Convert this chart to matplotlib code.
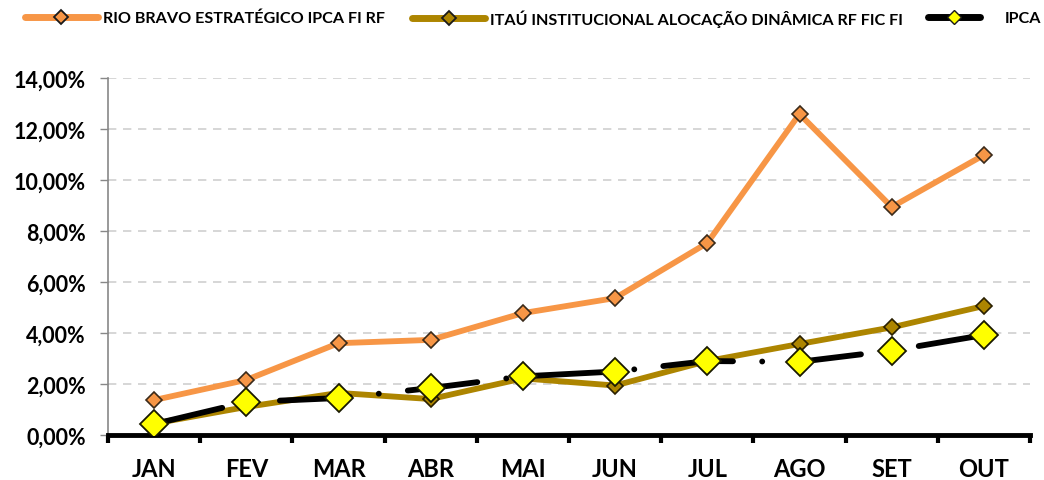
import matplotlib
matplotlib.use("Agg")
import matplotlib.pyplot as plt
from matplotlib.lines import Line2D
from matplotlib.ticker import FixedLocator, NullFormatter, FuncFormatter

months = ["JAN", "FEV", "MAR", "ABR", "MAI", "JUN", "JUL", "AGO", "SET", "OUT"]
rio_bravo = [1.37, 2.16, 3.60, 3.73, 4.78, 5.37, 7.53, 12.59, 8.94, 10.98]
itau = [0.45, 1.10, 1.65, 1.41, 2.22, 1.94, 2.90, 3.57, 4.22, 5.06]
ipca = [0.43, 1.29, 1.45, 1.84, 2.30, 2.49, 2.90, 2.87, 3.31, 3.92]
series_names = ["RIO BRAVO ESTRATÉGICO IPCA FI RF",
                "ITAÚ INSTITUCIONAL ALOCAÇÃO DINÂMICA RF FIC FI",
                "IPCA"]

plt.rcParams['font.family'] = ['Lato', 'DejaVu Sans']

fig = plt.figure(figsize=(10.44, 4.81), dpi=100)
ax = fig.add_axes([108/1044, 1-436/481, (1030-108)/1044, (436-79)/481])

x = list(range(len(months)))
orange = '#F79646'
olive = '#AD8500'

ax.plot(x, rio_bravo, color=orange, lw=4.2, marker='D', ms=8,
        mfc=orange, mec='#3a2a1a', mew=1.2, solid_capstyle='round', zorder=3)
ax.plot(x, itau, color=olive, lw=4.2, marker='D', ms=8,
        mfc=olive, mec='#2a2000', mew=1.2, solid_capstyle='round', zorder=4)
ax.plot(x, ipca, color='black', lw=4.2, dashes=(12, 5, 0.01, 5),
        dash_capstyle='round', marker='D', ms=14, mfc='#FFFF00',
        mec='#1a1a00', mew=1.3, zorder=5)

ax.set_xlim(-0.5, len(months) - 0.5)
ax.set_ylim(0, 14)
ax.yaxis.set_major_locator(FixedLocator([0, 2, 4, 6, 8, 10, 12, 14]))
ax.yaxis.set_major_formatter(FuncFormatter(lambda v, p: f"{v:.2f}%".replace('.', ',')))
ax.grid(axis='y', color='#d0d0d0', ls=(0, (5, 4)), lw=1.2, zorder=0)

ax.xaxis.set_major_locator(FixedLocator([i - 0.5 for i in range(len(months) + 1)]))
ax.xaxis.set_major_formatter(NullFormatter())
ax.xaxis.set_minor_locator(FixedLocator(x))
ax.set_xticklabels(months, minor=True)
ax.tick_params(axis='x', which='major', length=6, width=3, color='black', direction='out')
ax.tick_params(axis='x', which='minor', length=0, pad=16, labelsize=17)
ax.tick_params(axis='y', length=6, width=1, color='#888888', labelsize=15.5, pad=10)
for lab in ax.get_xticklabels(minor=True) + ax.get_yticklabels():
    lab.set_fontweight('bold')

for s in ['top', 'right']:
    ax.spines[s].set_visible(False)
ax.spines['left'].set_color('#888888')
ax.spines['left'].set_linewidth(1.2)
ax.spines['bottom'].set_color('black')
ax.spines['bottom'].set_linewidth(3.5)

# legend: three entries placed as in the reference
leg_fs = 11.6
px_per_fs = leg_fs * 100 / 72
entries = [
    (Line2D([], [], color=orange, lw=5, marker='D', ms=7, mfc=orange,
            mec='#1a1a1a', mew=1.3, solid_capstyle='round'),
     series_names[0], 25, 73, 5),
    (Line2D([], [], color=olive, lw=5, marker='D', ms=7, mfc=olive,
            mec='#1a1a1a', mew=1.3, solid_capstyle='round'),
     series_names[1], 412, 73, 5),
    (Line2D([], [], color='black', lw=5, marker='D', ms=7, mfc='#FFFF00',
            mec='#1a1a1a', mew=1.0, solid_capstyle='round'),
     series_names[2], 928, 52, 25),
]
for handle, name, x0, hl, gap in entries:
    fig.legend([handle], [name], loc='center left',
               bbox_to_anchor=(x0/1044, 1-19/481), frameon=False,
               borderpad=0, borderaxespad=0,
               prop={'weight': 'bold', 'size': leg_fs},
               handlelength=hl/px_per_fs, handletextpad=gap/px_per_fs)

fig.savefig("out.png", dpi=100)
